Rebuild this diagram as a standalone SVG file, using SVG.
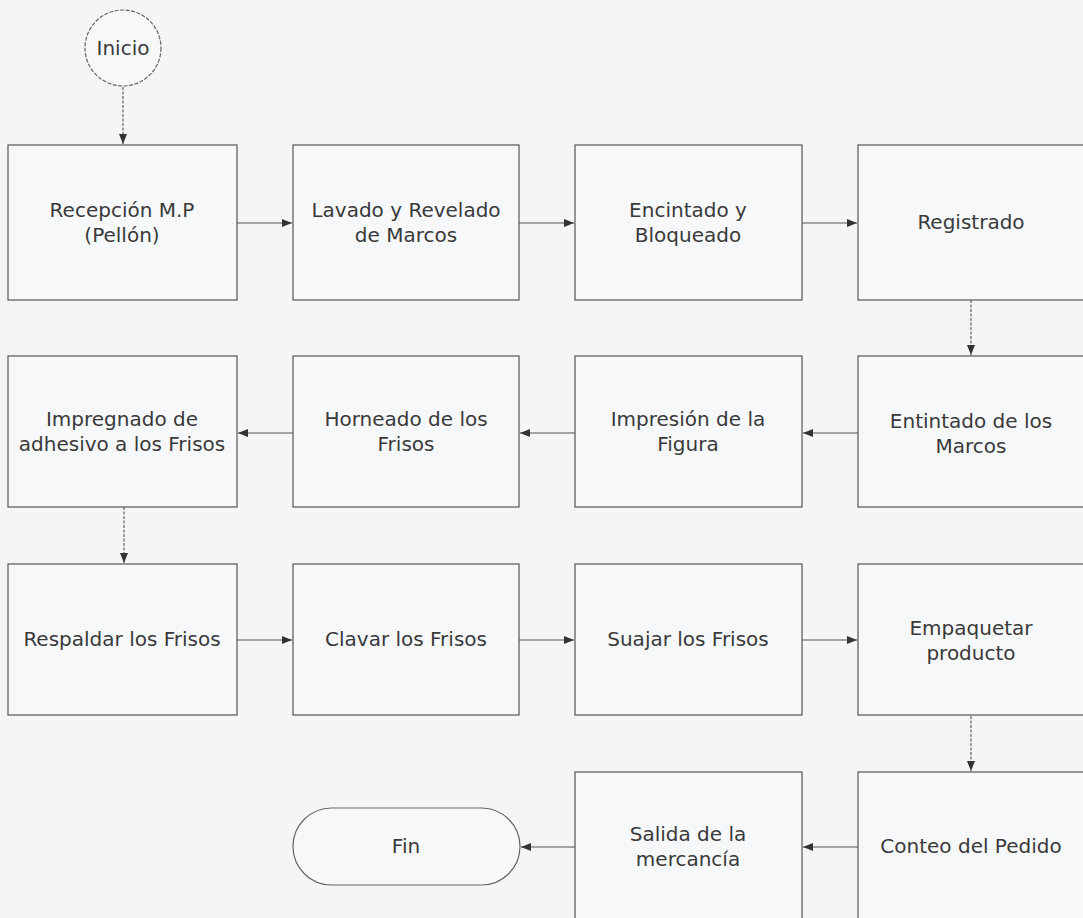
<svg xmlns="http://www.w3.org/2000/svg" width="1083" height="918" viewBox="0 0 1083 918">
<style>
.bg{fill:#f4f5f7}
.box{fill:#f7f8fa;stroke:#555;stroke-width:1.2}
.term{fill:#f7f8fa;stroke:#666;stroke-width:1.2}
.lbl{font-family:"DejaVu Sans","Liberation Sans",sans-serif;font-size:20px;fill:#3a3a3a;text-anchor:middle}
.conn{fill:none;stroke:#555;stroke-width:1.1;marker-end:url(#ah)}
.vconn{stroke-dasharray:3 1.5}
</style>
<defs>
<marker id="ah" markerUnits="userSpaceOnUse" markerWidth="11" markerHeight="9" refX="10" refY="4" orient="auto">
<path d="M0,0 L10,4 L0,8 Z" fill="#333"/>
</marker>
</defs>
<rect class="bg" x="0" y="0" width="1083" height="918"/>

<g id="connectors">
<path class="conn vconn" d="M123,87 V144"/>
<path class="conn" d="M237,223 H292"/>
<path class="conn" d="M519,223 H574"/>
<path class="conn" d="M802,223 H857"/>
<path class="conn vconn" d="M971,300 V355"/>
<path class="conn" d="M858,433 H803"/>
<path class="conn" d="M575,433 H520"/>
<path class="conn" d="M293,433 H238"/>
<path class="conn vconn" d="M124,507 V563"/>
<path class="conn" d="M237,640 H292"/>
<path class="conn" d="M519,640 H574"/>
<path class="conn" d="M802,640 H857"/>
<path class="conn vconn" d="M971,716 V771"/>
<path class="conn" d="M858,847 H803"/>
<path class="conn" d="M575,847 H521"/>
</g>

<g id="inicio">
<circle cx="123" cy="48" r="38" class="term" stroke-dasharray="4 1.5"/>
<text class="lbl" x="123" y="55" font-size="19">Inicio</text>
</g>

<g id="n1">
<rect class="box" x="8" y="145" width="229" height="155"/>
<text class="lbl" x="122" y="217">Recepción M.P</text>
<text class="lbl" x="122" y="242">(Pellón)</text>
</g>
<g id="n2">
<rect class="box" x="293" y="145" width="226" height="155"/>
<text class="lbl" x="406" y="217">Lavado y Revelado</text>
<text class="lbl" x="406" y="242">de Marcos</text>
</g>
<g id="n3">
<rect class="box" x="575" y="145" width="227" height="155"/>
<text class="lbl" x="688" y="217">Encintado y</text>
<text class="lbl" x="688" y="242">Bloqueado</text>
</g>
<g id="n4">
<rect class="box" x="858" y="145" width="226" height="155"/>
<text class="lbl" x="971" y="229">Registrado</text>
</g>

<g id="n5">
<rect class="box" x="858" y="356" width="226" height="151"/>
<text class="lbl" x="971" y="428">Entintado de los</text>
<text class="lbl" x="971" y="453">Marcos</text>
</g>
<g id="n6">
<rect class="box" x="575" y="356" width="227" height="151"/>
<text class="lbl" x="688" y="426">Impresión de la</text>
<text class="lbl" x="688" y="451">Figura</text>
</g>
<g id="n7">
<rect class="box" x="293" y="356" width="226" height="151"/>
<text class="lbl" x="406" y="426">Horneado de los</text>
<text class="lbl" x="406" y="451">Frisos</text>
</g>
<g id="n8">
<rect class="box" x="8" y="356" width="229" height="151"/>
<text class="lbl" x="122" y="426">Impregnado de</text>
<text class="lbl" x="122" y="451">adhesivo a los Frisos</text>
</g>

<g id="n9">
<rect class="box" x="8" y="564" width="229" height="151"/>
<text class="lbl" x="122" y="646">Respaldar los Frisos</text>
</g>
<g id="n10">
<rect class="box" x="293" y="564" width="226" height="151"/>
<text class="lbl" x="406" y="646">Clavar los Frisos</text>
</g>
<g id="n11">
<rect class="box" x="575" y="564" width="227" height="151"/>
<text class="lbl" x="688" y="646">Suajar los Frisos</text>
</g>
<g id="n12">
<rect class="box" x="858" y="564" width="226" height="151"/>
<text class="lbl" x="971" y="635">Empaquetar</text>
<text class="lbl" x="971" y="660">producto</text>
</g>

<g id="n13">
<rect class="box" x="858" y="772" width="226" height="152"/>
<text class="lbl" x="971" y="853">Conteo del Pedido</text>
</g>
<g id="n14">
<rect class="box" x="575" y="772" width="227" height="152"/>
<text class="lbl" x="688" y="841">Salida de la</text>
<text class="lbl" x="688" y="866">mercancía</text>
</g>
<g id="fin">
<rect class="term" x="293" y="808" width="227" height="77" rx="38.5" ry="38.5"/>
<text class="lbl" x="406" y="853" font-size="19">Fin</text>
</g>
</svg>
